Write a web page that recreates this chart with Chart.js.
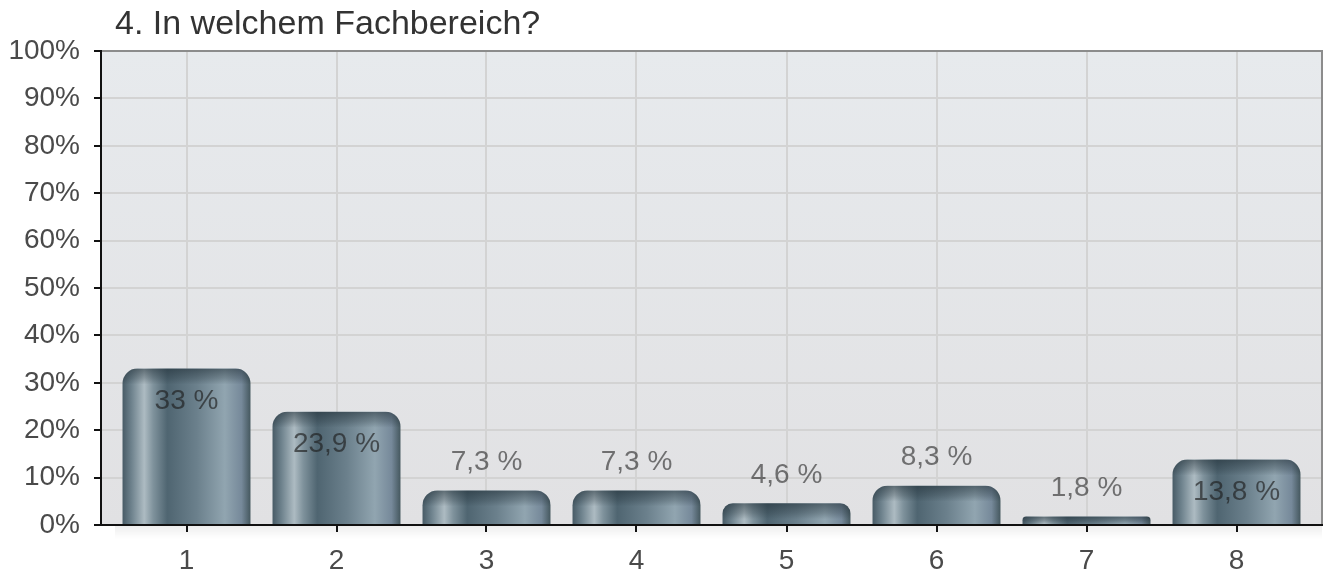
<!DOCTYPE html>
<html>
<head>
<meta charset="utf-8">
<title>4. In welchem Fachbereich?</title>
<script src="https://cdn.jsdelivr.net/npm/chart.js@4/dist/chart.umd.min.js"></script>
<style>
  html, body { margin: 0; padding: 0; background: #fff; }
  #wrap { position: relative; width: 1326px; height: 577px; }
</style>
</head>
<body>
<div id="wrap"><canvas id="fachbereich-chart"></canvas></div>
<script>
const titleText = "4. In welchem Fachbereich?";
const categories = ["1", "2", "3", "4", "5", "6", "7", "8"];
const shares = [33, 23.9, 7.3, 7.3, 4.6, 8.3, 1.8, 13.8];

const FONT = '"Liberation Sans", Arial, Helvetica, sans-serif';
const BAR_PCT = 0.853;

// Zylinder-Optik der Balken (horizontaler Verlauf)
function barFill(c) {
    const chart = c.chart;
    const xs = chart.scales.x;
    if (!xs || c.type !== "data" || !c.parsed) return "#6f8591";
    const cx = xs.getPixelForValue(c.parsed.x);
    const half = (xs.getPixelForValue(2) - xs.getPixelForValue(1)) * BAR_PCT / 2;
    if (!Number.isFinite(cx) || !Number.isFinite(half) || half <= 0) return "#6f8591";
    const g = chart.ctx.createLinearGradient(cx - half, 0, cx + half, 0);
    g.addColorStop(0, "#485b66");
    g.addColorStop(0.07, "#6e828d");
    g.addColorStop(0.17, "#adbbc2");
    g.addColorStop(0.24, "#7f929c");
    g.addColorStop(0.35, "#4f6571");
    g.addColorStop(0.58, "#6b808c");
    g.addColorStop(0.8, "#91a5b0");
    g.addColorStop(0.93, "#76899a");
    g.addColorStop(1, "#45585f");
    return g;
}

const plotFrame = {
    id: "plotFrame",
    beforeDraw(chart) {
        const { ctx, chartArea: a } = chart;
        if (!a) return;
        ctx.save();
        const g = ctx.createLinearGradient(0, a.top, 0, a.bottom);
        g.addColorStop(0, "#e7eaed");
        g.addColorStop(1, "#e1e1e3");
        ctx.fillStyle = g;
        ctx.fillRect(a.left, a.top, a.right - a.left, a.bottom - a.top);
        // leichter Schatten unter der Achse
        const s = ctx.createLinearGradient(0, a.bottom, 0, a.bottom + 14);
        s.addColorStop(0, "rgba(0,0,0,0.07)");
        s.addColorStop(1, "rgba(0,0,0,0)");
        ctx.fillStyle = s;
        ctx.fillRect(a.left + 14, a.bottom, a.right - a.left - 14, 14);
        ctx.font = "34px " + FONT;
        ctx.fillStyle = "#333";
        ctx.textBaseline = "alphabetic";
        ctx.textAlign = "left";
        ctx.fillText(titleText, 115, 34);
        ctx.restore();
    },
    beforeDatasetsDraw(chart) {
        const { ctx, chartArea: a } = chart;
        ctx.save();
        ctx.strokeStyle = "#8c8c8c";
        ctx.lineWidth = 2;
        ctx.beginPath();
        ctx.moveTo(a.left, a.top);
        ctx.lineTo(a.right, a.top);
        ctx.lineTo(a.right, a.bottom);
        ctx.stroke();
        ctx.restore();
    },
    afterDatasetsDraw(chart) {
        const { ctx } = chart;
        const meta = chart.getDatasetMeta(0);
        ctx.save();
        meta.data.forEach((bar, i) => {
            if (!Number.isFinite(bar.x) || !Number.isFinite(bar.y)) return;
            const h = bar.base - bar.y;
            const left = bar.x - bar.width / 2;
            const r = Math.min(15, h / 2, bar.width / 2);
            // dunkler Deckel oben
            if (h > 0) {
                ctx.save();
                ctx.beginPath();
                ctx.roundRect(left, bar.y, bar.width, h, [r, r, 0, 0]);
                ctx.clip();
                const cap = Math.min(16, h);
                const g = ctx.createLinearGradient(0, bar.y, 0, bar.y + cap);
                g.addColorStop(0, "rgba(30,44,52,0.55)");
                g.addColorStop(0.6, "rgba(30,44,52,0.25)");
                g.addColorStop(1, "rgba(30,44,52,0)");
                ctx.fillStyle = g;
                ctx.fillRect(left, bar.y, bar.width, cap);
                ctx.restore();
            }

            // Wertbeschriftung
            const txt = String(shares[i]).replace(".", ",") + " %";
            const inside = h > 50;
            ctx.font = "28px " + FONT;
            ctx.fillStyle = inside ? "rgba(30,30,30,0.66)" : "rgba(40,40,40,0.62)";
            ctx.textAlign = "center";
            ctx.textBaseline = "middle";
            ctx.fillText(txt, bar.x, inside ? bar.y + 33 : bar.y - 28);
        });
        ctx.restore();
    }
};

const ctx = document.getElementById("fachbereich-chart").getContext("2d");
const chart = new Chart(ctx, {
    type: "bar",
    data: {
        datasets: [{
            data: shares.map((v, i) => ({ x: i + 1, y: v })),
            backgroundColor: barFill,
            borderWidth: 0,
            borderRadius: { topLeft: 15, topRight: 15 },
            borderSkipped: "bottom",
            categoryPercentage: 1,
            barPercentage: BAR_PCT
        }]
    },
    options: {
        responsive: true,
        maintainAspectRatio: false,
        animation: false,
        layout: { padding: { left: 0, right: 4, top: 51, bottom: 0 } },
        plugins: {
            legend: { display: false },
            tooltip: { enabled: false }
        },
        scales: {
            x: {
                type: "linear",
                offset: false,
                min: 0.43,
                max: 8.57,
                afterBuildTicks: s => { s.ticks = categories.map((c, i) => ({ value: i + 1 })); },
                afterFit: s => { s.height = 52; },
                grid: { color: "#d3d3d3", lineWidth: 2, tickColor: "#111", tickLength: 7, offset: false },
                border: { color: "#111", width: 2, z: 1 },
                ticks: {
                    padding: 12,
                    color: "#4a4a4a",
                    font: { family: FONT, size: 28 },
                    callback: v => categories[v - 1]
                }
            },
            y: {
                min: 0,
                max: 100,
                afterFit: s => { s.width = 101; },
                grid: { color: "#d3d3d3", lineWidth: 2, tickColor: "#111", tickLength: 7 },
                border: { color: "#111", width: 2, z: 1 },
                ticks: {
                    stepSize: 10,
                    padding: 14,
                    color: "#4a4a4a",
                    font: { family: FONT, size: 28 },
                    callback: v => v + "%"
                }
            }
        }
    },
    plugins: [plotFrame]
});
</script>
</body>
</html>
